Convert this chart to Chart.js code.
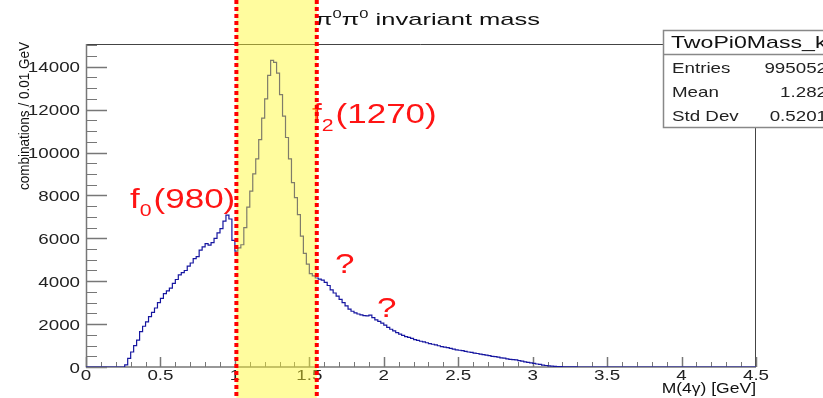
<!DOCTYPE html>
<html>
<head>
<meta charset="utf-8">
<script src="https://cdn.jsdelivr.net/npm/chart.js@4.4.0/dist/chart.umd.min.js"></script>
<style>
  html, body { margin: 0; padding: 0; background: #fff; }
</style>
</head>
<body>
<canvas id="massChart" width="823" height="398"></canvas>
<script>
// M(4 gamma) spectrum, combinations per 0.01 GeV, read on 0.02 GeV low edges
var firstBin = 0.26;
var binWidth = 0.02;
var counts = [
  100, 400, 700, 1000, 1250, 1650, 1900, 2100, 2350, 2550,      // 0.26 - 0.44
  2750, 3000, 3200, 3420, 3550, 3680, 3900, 4080, 4300, 4400,   // 0.46 - 0.64
  4500, 4700, 4850, 5050, 5150, 5450, 5600, 5750, 5680, 5800,   // 0.66 - 0.84
  6000, 6250, 6450, 6800, 7080, 6900, 5900, 5400, 5550, 5700,   // 0.86 - 1.04
  6500, 7450, 8200, 9000, 9700, 10600, 11600, 12500, 13600, 14300, // 1.06 - 1.24
  14200, 13700, 12700, 11700, 10700, 9700, 8600, 7900, 7100, 6100, // 1.26 - 1.44
  5300, 4800, 4350, 4250, 4150, 4100, 4050, 3950, 3800, 3600,   // 1.46 - 1.64
  3450, 3300, 3150, 3000, 2850, 2700, 2600, 2520, 2470, 2430,   // 1.66 - 1.84
  2400, 2380, 2420, 2300, 2200, 2130, 2050, 1950, 1850, 1760,   // 1.86 - 2.04
  1680, 1600, 1530, 1470, 1420, 1380, 1330, 1280, 1240, 1200,   // 2.06 - 2.24
  1170, 1130, 1090, 1060, 1030, 990, 950, 930, 900, 870,        // 2.26 - 2.44
  830, 800, 780, 760, 730, 700, 680, 650, 630, 600,             // 2.46 - 2.64
  580, 550, 530, 500, 480, 460, 430, 410, 380, 360,             // 2.66 - 2.84
  340, 330, 300, 270, 240, 220, 190, 170, 140, 120,             // 2.86 - 3.04
  90, 70, 50, 40, 30, 20, 15, 10, 8, 5,                         // 3.06 - 3.24
  3, 2                                                          // 3.26 - 3.28
];
var xTicks = [0, 0.5, 1, 1.5, 2, 2.5, 3, 3.5, 4, 4.5];
var xTickLabels = ['0', '0.5', '1', '1.5', '2', '2.5', '3', '3.5', '4', '4.5'];
var yTicks = [0, 2000, 4000, 6000, 8000, 10000, 12000, 14000];
var bandEdges = [1.01, 1.55];
var statNames = ['Entries', 'Mean', 'Std Dev'];
var statValues = ['995052', '1.282', '0.5201'];

var points = [{ x: 0, y: 0 }];
counts.forEach(function (c, i) {
  points.push({ x: +(firstBin + i * binWidth).toFixed(2), y: c });
});
points.push({ x: +(firstBin + counts.length * binWidth).toFixed(2), y: 0 });
points.push({ x: 4.5, y: 0 });

var FONT = '"Liberation Sans", Arial, Helvetica, sans-serif';
var STRETCH = 1.25;

// text drawn a bit wide, like the ROOT canvas it comes from
function wideText(ctx, text, x, y, size, color, align, sx) {
  sx = sx || STRETCH;
  ctx.save();
  ctx.font = size + 'px ' + FONT;
  ctx.fillStyle = color;
  ctx.textBaseline = 'alphabetic';
  ctx.textAlign = 'left';
  var w = ctx.measureText(text).width * sx;
  var left = align === 'right' ? x - w : (align === 'center' ? x - w / 2 : x);
  ctx.translate(left, y);
  ctx.scale(sx, 1);
  ctx.fillText(text, 0, 0);
  ctx.restore();
  return w;
}

// particle label: main letter, subscript, then the mass in brackets
function particle(ctx, x, y, sub, mass) {
  var red = '#ff1414';
  var w = wideText(ctx, 'f', x, y, 28, red);
  var ws = wideText(ctx, sub, x + w, y + 8, 17, red);
  wideText(ctx, mass, x + w + ws + 2, y, 28, red);
}

var rootStyle = {
  id: 'rootStyle',
  beforeDraw: function (chart) {
    var ctx = chart.ctx;
    ctx.save();
    ctx.fillStyle = '#fff';
    ctx.fillRect(0, 0, chart.width, chart.height);
    ctx.restore();
  },
  beforeDatasetsDraw: function (chart) {
    var ctx = chart.ctx, a = chart.chartArea;
    var xs = chart.scales.x, ys = chart.scales.y;
    ctx.save();
    // frame
    ctx.strokeStyle = '#444';
    ctx.lineWidth = 1;
    ctx.beginPath();
    ctx.moveTo(a.left, a.top + 0.5);
    ctx.lineTo(a.right - 0.5, a.top + 0.5);
    ctx.lineTo(a.right - 0.5, a.bottom);
    ctx.stroke();
    // axis lines
    ctx.strokeStyle = '#777';
    ctx.lineWidth = 1.5;
    ctx.beginPath();
    ctx.moveTo(a.left + 0.5, a.top);
    ctx.lineTo(a.left + 0.5, a.bottom);
    ctx.lineTo(a.right, a.bottom);
    ctx.stroke();
    // y ticks, pointing into the frame
    for (var v = 0; v <= ys.max; v += 500) {
      var py = Math.round(ys.getPixelForValue(v)) + 0.5;
      var len = v % 2000 === 0 ? 21 : 11;
      ctx.lineWidth = v % 2000 === 0 ? 1.5 : 1;
      ctx.beginPath();
      ctx.moveTo(a.left, py);
      ctx.lineTo(a.left + len, py);
      ctx.stroke();
    }
    // x ticks, pointing up
    for (var i = 0; i <= 45; i++) {
      var px = Math.round(xs.getPixelForValue(i / 10)) + 0.5;
      var major = i % 5 === 0;
      ctx.lineWidth = major ? 1.5 : 1;
      ctx.beginPath();
      ctx.moveTo(px, a.bottom);
      ctx.lineTo(px, a.bottom - (major ? 10 : 5));
      ctx.stroke();
    }
    ctx.restore();
  },
  afterDraw: function (chart) {
    var ctx = chart.ctx, a = chart.chartArea;
    var xs = chart.scales.x, ys = chart.scales.y;
    ctx.save();

    // tick labels
    yTicks.forEach(function (v) {
      wideText(ctx, String(v), a.left - 6, ys.getPixelForValue(v) + 5.5, 15, '#222', 'right');
    });
    xTicks.forEach(function (v, i) {
      wideText(ctx, xTickLabels[i], xs.getPixelForValue(v), a.bottom + 13, 15, '#222', 'center');
    });

    // axis titles
    wideText(ctx, 'M(4\u03b3) [GeV]', a.right, 393, 14, '#111', 'right');
    ctx.save();
    ctx.font = '12.5px ' + FONT;
    var yTitle = 'combinations / 0.01 GeV';
    var along = 148 / ctx.measureText(yTitle).width;
    ctx.translate(29, 42);
    ctx.scale(1.12, 1);
    ctx.rotate(-Math.PI / 2);
    ctx.scale(along, 1);
    ctx.fillStyle = '#111';
    ctx.textAlign = 'right';
    ctx.fillText(yTitle, 0, 0);
    ctx.restore();

    // title: pi0 pi0 invariant mass
    var tx = 315, ty = 25, tsx = 1.5;
    tx += wideText(ctx, '\u03c0', tx, ty, 17, '#111', 'left', tsx);
    tx += wideText(ctx, '0', tx, ty - 7, 11, '#111', 'left', tsx);
    tx += wideText(ctx, '\u03c0', tx, ty, 17, '#111', 'left', tsx);
    tx += wideText(ctx, '0', tx, ty - 7, 11, '#111', 'left', tsx);
    wideText(ctx, ' invariant mass', tx, ty, 17, '#111', 'left', tsx);

    // resonance labels
    particle(ctx, 130, 208, '0', '(980)');
    particle(ctx, 312, 123, '2', '(1270)');
    wideText(ctx, '?', 335, 273, 28, '#ff1414');
    wideText(ctx, '?', 377, 317, 28, '#ff1414');

    // highlighted mass window
    var b0 = xs.getPixelForValue(bandEdges[0]);
    var b1 = xs.getPixelForValue(bandEdges[1]);
    ctx.fillStyle = 'rgba(255, 248, 40, 0.45)';
    ctx.fillRect(b0, 0, b1 - b0, chart.height);
    ctx.strokeStyle = '#ff0000';
    ctx.lineWidth = 4;
    ctx.setLineDash([4, 3]);
    [b0, b1].forEach(function (bx) {
      ctx.beginPath();
      ctx.moveTo(bx, 0);
      ctx.lineTo(bx, chart.height);
      ctx.stroke();
    });
    ctx.setLineDash([]);

    // stats box
    ctx.fillStyle = '#fff';
    ctx.fillRect(664, 31, 200, 96);
    ctx.strokeStyle = '#888';
    ctx.lineWidth = 1.5;
    ctx.strokeRect(663.5, 30.5, 200, 97);
    ctx.beginPath();
    ctx.moveTo(663.5, 54.5);
    ctx.lineTo(chart.width, 54.5);
    ctx.stroke();
    wideText(ctx, 'TwoPi0Mass_kf', 671, 48, 17, '#111', 'left', 1.36);
    statNames.forEach(function (name, i) {
      var by = 73 + i * 24;
      wideText(ctx, name, 672, by, 15, '#222');
      wideText(ctx, statValues[i], 827, by, 15, '#222', 'right');
    });

    ctx.restore();
  }
};

new Chart(document.getElementById('massChart'), {
  type: 'line',
  data: {
    datasets: [{
      data: points,
      borderColor: 'rgb(22, 22, 160)',
      borderWidth: 1.2,
      pointRadius: 0,
      stepped: true,
      fill: false
    }]
  },
  options: {
    responsive: false,
    animation: false,
    layout: { padding: { left: 86, right: 67, top: 44, bottom: 31 } },
    scales: {
      x: { type: 'linear', min: 0, max: 4.5, display: false },
      y: { min: 0, max: 15060, display: false }
    },
    plugins: {
      legend: { display: false },
      tooltip: { enabled: false }
    }
  },
  plugins: [rootStyle]
});
</script>
</body>
</html>
